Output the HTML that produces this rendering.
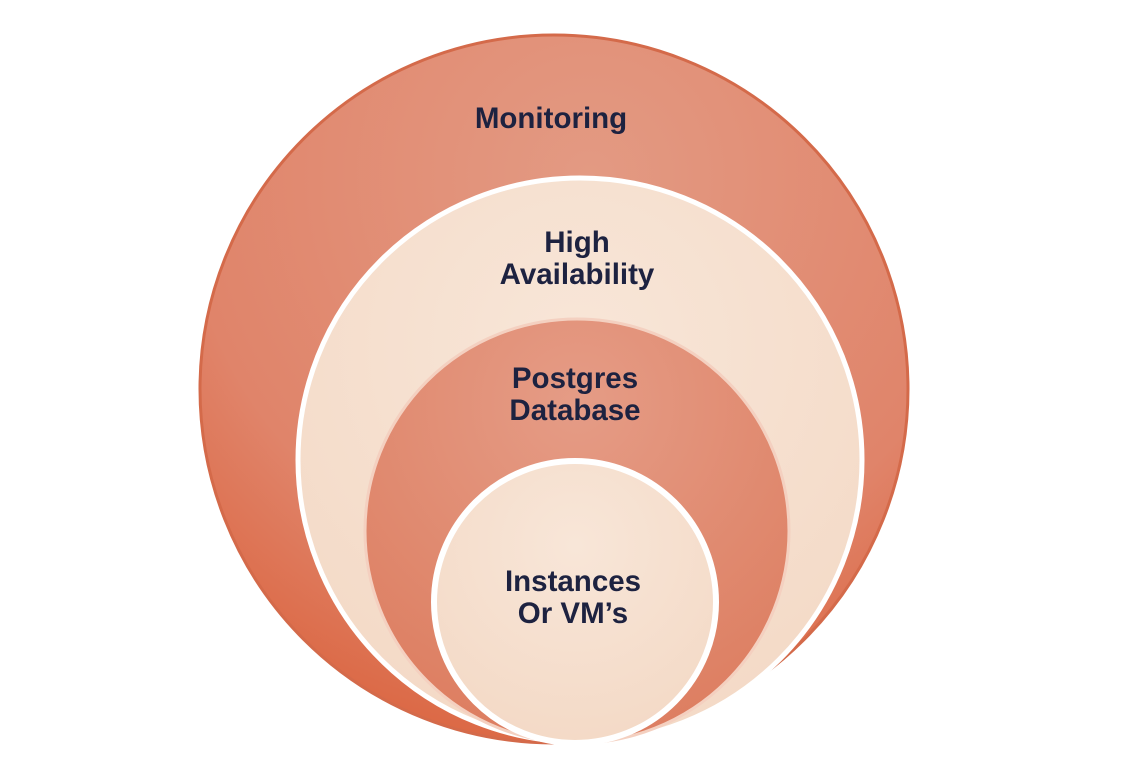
<!DOCTYPE html>
<html><head><style>
html,body{margin:0;padding:0;background:#fff;width:1132px;height:772px;overflow:hidden}
svg{display:block}
text{font-family:"Liberation Sans",sans-serif;font-weight:bold;font-size:29.5px;fill:#1d2240;text-anchor:middle}
</style></head><body>
<svg width="1132" height="772" viewBox="0 0 1132 772">
<defs>
<radialGradient id="o" cx="0.55" cy="0.2" r="0.95">
<stop offset="0" stop-color="#e39a83"/><stop offset="0.6" stop-color="#e0846a"/><stop offset="1" stop-color="#d9582f"/>
</radialGradient>
<radialGradient id="c" cx="0.5" cy="0.3" r="0.8">
<stop offset="0" stop-color="#f8e6d8"/><stop offset="1" stop-color="#f3d8c4"/>
</radialGradient>
<radialGradient id="m" cx="0.5" cy="0.2" r="0.9">
<stop offset="0" stop-color="#e59c86"/><stop offset="1" stop-color="#dc7a5c"/>
</radialGradient>
</defs>
<circle cx="554" cy="389" r="354" fill="url(#o)" stroke="#d46a4a" stroke-width="3"/>
<circle cx="580" cy="460" r="282" fill="url(#c)" stroke="#fff" stroke-width="5"/>
<circle cx="577" cy="531" r="212" fill="url(#m)" stroke="#f4d0c0" stroke-width="3"/>
<circle cx="575" cy="602" r="141" fill="url(#c)" stroke="#fff" stroke-width="6"/>
<text x="551" y="128">Monitoring</text>
<text x="577" y="252">High</text>
<text x="577" y="284">Availability</text>
<text x="575" y="388">Postgres</text>
<text x="575" y="420">Database</text>
<text x="573" y="591">Instances</text>
<text x="573" y="623">Or VM’s</text>
</svg>
</body></html>
